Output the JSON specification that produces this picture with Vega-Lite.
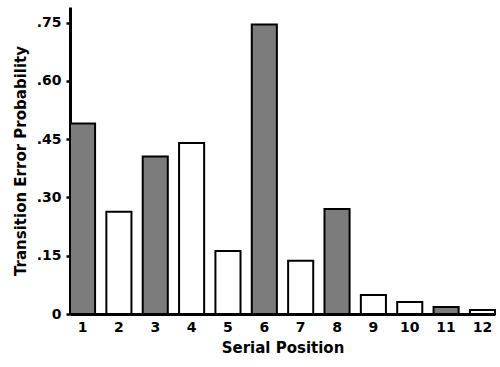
{
  "$schema": "https://vega.github.io/schema/vega-lite/v6.json",
  "autosize": "none",
  "width": 425,
  "height": 307,
  "padding": {"left": 70, "top": 7, "right": 5, "bottom": 53},
  "background": "white",
  "data": {"values": [
    {"pos": "1", "p": 0.49, "type": "shaded"},
    {"pos": "2", "p": 0.263, "type": "open"},
    {"pos": "3", "p": 0.405, "type": "shaded"},
    {"pos": "4", "p": 0.44, "type": "open"},
    {"pos": "5", "p": 0.162, "type": "open"},
    {"pos": "6", "p": 0.745, "type": "shaded"},
    {"pos": "7", "p": 0.137, "type": "open"},
    {"pos": "8", "p": 0.27, "type": "shaded"},
    {"pos": "9", "p": 0.049, "type": "open"},
    {"pos": "10", "p": 0.031, "type": "open"},
    {"pos": "11", "p": 0.018, "type": "shaded"},
    {"pos": "12", "p": 0.01, "type": "open"}
  ]},
  "config": {"view": {"stroke": null}, "font": "DejaVu Sans"},
  "mark": {"type": "bar", "stroke": "black", "strokeWidth": 2},
  "encoding": {
    "x": {"field": "pos", "type": "ordinal", "sort": null,
      "scale": {"paddingInner": 0.31, "paddingOuter": 0},
      "axis": {"title": "Serial Position", "labelAngle": 0, "ticks": false, "domainWidth": 3, "domainColor": "black",
        "labelFontSize": 14, "labelFontWeight": "bold", "labelColor": "black", "labelPadding": 6,
        "titleFontSize": 15, "titleFontWeight": "bold", "titleColor": "black", "titlePadding": 6}},
    "y": {"field": "p", "type": "quantitative",
      "scale": {"domain": [0, 0.79], "nice": false},
      "axis": {"title": "Transition Error Probability", "values": [0, 0.15, 0.3, 0.45, 0.6, 0.75],
        "labelExpr": "datum.value == 0 ? '0' : replace(format(datum.value, '.2f'), '0.', '.')",
        "grid": false, "tickSize": 4, "tickWidth": 2.5, "tickColor": "black", "domainWidth": 3, "domainColor": "black",
        "labelFontSize": 14, "labelFontWeight": "bold", "labelColor": "black", "labelPadding": 5,
        "titleFontSize": 15, "titleFontWeight": "bold", "titleColor": "black", "titlePadding": 8}},
    "fill": {"field": "type", "type": "nominal", "scale": {"domain": ["shaded", "open"], "range": ["#7c7c7c", "white"]}, "legend": null}
  }
}
